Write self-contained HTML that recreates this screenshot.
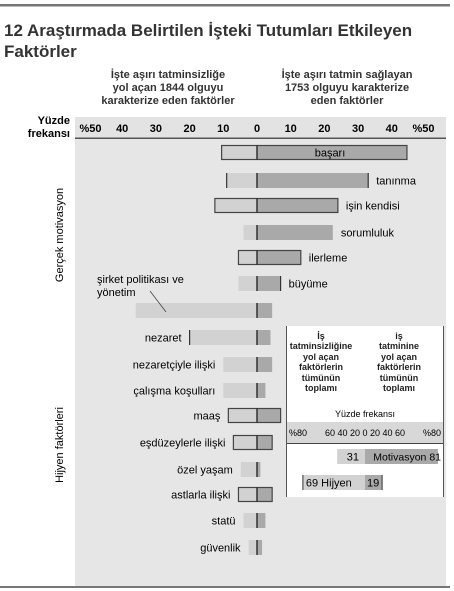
<!DOCTYPE html>
<html><head><meta charset="utf-8"><style>
body{margin:0;width:454px;height:591px;background:#fff;overflow:hidden;font-family:"Liberation Sans",sans-serif;color:#222}
svg{display:block}
</style></head><body>
<svg id="c" width="454" height="591" font-family="Liberation Sans, sans-serif">
<rect x="0" y="4" width="450" height="2.5" fill="#777"/>
<rect x="0" y="586" width="450" height="2" fill="#777"/>
<text x="4" y="36" font-size="17" font-weight="bold" fill="#333">12 Araştırmada Belirtilen İşteki Tutumları Etkileyen</text>
<text x="4" y="57" font-size="17" font-weight="bold" fill="#333">Faktörler</text>
<g font-size="11" font-weight="bold" text-anchor="middle" fill="#333">
<text x="168" y="78">İşte aşırı tatminsizliğe</text><text x="168" y="91">yol açan 1844 olguyu</text><text x="168" y="104">karakterize eden faktörler</text></g>
<g font-size="11" font-weight="bold" text-anchor="middle" fill="#333">
<text x="347" y="78">İşte aşırı tatmin sağlayan</text><text x="347" y="91">1753 olguyu karakterize</text><text x="347" y="104">eden faktörler</text></g>
<text x="70" y="124" font-size="11" font-weight="bold" text-anchor="end">Yüzde</text>
<text x="70" y="137" font-size="11" font-weight="bold" text-anchor="end">frekansı</text>
<rect x="75" y="117" width="371" height="21" fill="#e3e3e3"/>
<rect x="75" y="139" width="371" height="447" fill="#e6e6e6"/>
<rect x="75" y="137.5" width="371" height="1.5" fill="#555"/>
<text transform="translate(63,235) rotate(-90)" font-size="11" text-anchor="middle">Gerçek motivasyon</text>
<text transform="translate(63,445) rotate(-90)" font-size="11" text-anchor="middle">Hijyen faktörleri</text>
<g id="ticks"></g><g id="bars"></g>
<g>
<rect x="286" y="326" width="158" height="171" fill="#fff"/>
<line x1="286.5" y1="326" x2="286.5" y2="497" stroke="#555"/>
<line x1="443.5" y1="326" x2="443.5" y2="497" stroke="#555"/>
<g font-size="9" font-weight="bold" text-anchor="middle" fill="#222">
<text x="321" y="339">İş</text><text x="321" y="349">tatminsizliğine</text><text x="321" y="360">yol açan</text><text x="321" y="370">faktörlerin</text><text x="321" y="381">tümünün</text><text x="321" y="391">toplamı</text>
<text x="399" y="339">iş</text><text x="399" y="349">tatminine</text><text x="399" y="360">yol açan</text><text x="399" y="370">faktörlerin</text><text x="399" y="381">tümünün</text><text x="399" y="391">toplamı</text></g>
<text x="365" y="417" font-size="9" text-anchor="middle">Yüzde frekansı</text>
<rect x="287" y="422" width="156" height="21" fill="#d8d8d8"/>
<line x1="287" y1="443.5" x2="443" y2="443.5" stroke="#444"/>
<text x="289" y="436" font-size="9">%80</text>
<text x="365" y="436" font-size="9" text-anchor="middle">60 40 20  0  20 40 60</text>
<text x="441" y="436" font-size="9" text-anchor="end">%80</text>
<g id="inset"></g>
</g>
</svg>
<script>
const categories=["başarı","tanınma","işin kendisi","sorumluluk","ilerleme","büyüme","şirket politikası ve yönetim","nezaret","nezaretçiyle ilişki","çalışma koşulları","maaş","eşdüzeylerle ilişki","özel yaşam","astlarla ilişki","statü","güvenlik"];
const dissatisfaction=[10.5,9,12.5,4,5.5,5.5,36,20,10,10,8.5,7,4.8,5.5,4,2.5];
const satisfaction=[44.5,33,24,22.5,13,7,4.5,4,4.5,2.5,7,4.5,1,4.5,2.5,1.5];
const rowY=[145,173,198,225,250,276,303,330,357,383,408,435,462,487,513,540];
const ticks=["%50","40","30","20","10","0","10","20","30","40","%50"];
const tickVals=[-50,-40,-30,-20,-10,0,10,20,30,40,50];
const summaryCats=["Motivasyon","Hijyen"];
const summaryDis=[31,69];
const summarySat=[81,19];
const NS="http://www.w3.org/2000/svg";
const x0=257,pp=3.37,ip=0.9;
const X=v=>x0+v*pp;
const xi=v=>365+v*ip;
function mk(p,tag,a){const e=document.createElementNS(NS,tag);for(const k in a)e.setAttribute(k,a[k]);p.appendChild(e);return e;}
const tg=document.getElementById('ticks');
tickVals.forEach((v,i)=>{const t=mk(tg,'text',{x:X(v)-(i==0?-2:i==10?2:0),y:132,'font-size':11,'font-weight':'bold','text-anchor':'middle'});t.textContent=ticks[i];

});
const bg=document.getElementById('bars');
categories.forEach((c,i)=>{const y=rowY[i],h=15;
const g=mk(bg,'g',{});


mk(g,'rect',{x:X(-dissatisfaction[i]),y:y,width:dissatisfaction[i]*pp,height:h,fill:'#d2d2d2'});
mk(g,'rect',{x:x0,y:y,width:satisfaction[i]*pp,height:h,fill:'#a9a9a9'});
const bordered=[0,2,4,10,11,13].includes(i);
if(bordered)mk(g,'rect',{x:X(-dissatisfaction[i]),y:y+0.5,width:(dissatisfaction[i]+satisfaction[i])*pp,height:h-1,fill:'none',stroke:'#444','stroke-width':1.2});
mk(g,'line',{x1:x0,y1:y,x2:x0,y2:y+h,stroke:'#333','stroke-width':1.5});
if([1,7].includes(i))mk(g,'line',{x1:X(-dissatisfaction[i]),y1:y,x2:X(-dissatisfaction[i]),y2:y+h,stroke:'#333','stroke-width':1.2});
if([1,5].includes(i))mk(g,'line',{x1:X(satisfaction[i]),y1:y,x2:X(satisfaction[i]),y2:y+h,stroke:'#333','stroke-width':1.2});
let t;
if(i==0){t=mk(g,'text',{x:330,y:y+11.5,'font-size':11,'text-anchor':'middle'});t.textContent=c;}
else if(i<6){t=mk(g,'text',{x:X(satisfaction[i])+8,y:y+11.5,'font-size':11});t.textContent=c;}
else if(i==6){t=mk(g,'text',{x:97,y:283,'font-size':11});t.textContent='şirket politikası ve';
const t2=mk(g,'text',{x:97,y:296,'font-size':11});t2.textContent='yönetim';
mk(g,'line',{x1:150,y1:291,x2:166,y2:312,stroke:'#444','stroke-width':0.8});}
else{t=mk(g,'text',{x:X(-dissatisfaction[i])-8,y:y+11.5,'font-size':11,'text-anchor':'end'});t.textContent=c;}
});
const ig=document.getElementById('inset');
const sy=[449,475];
summaryCats.forEach((c,i)=>{const y=sy[i];
const g=mk(ig,'g',{});


mk(g,'rect',{x:xi(-summaryDis[i]),y:y,width:summaryDis[i]*ip,height:15,fill:'#d2d2d2'});
mk(g,'rect',{x:365,y:y,width:summarySat[i]*ip,height:15,fill:'#a9a9a9'});
let t;
if(i==0){t=mk(g,'text',{x:359,y:y+11.5,'font-size':11,'text-anchor':'end'});t.textContent=summaryDis[i];
t=mk(g,'text',{x:441,y:y+11.5,'font-size':10.5,'text-anchor':'end'});t.textContent=c+' '+summarySat[i];}
else{mk(g,'line',{x1:xi(-summaryDis[i]),y1:y,x2:xi(-summaryDis[i]),y2:y+15,stroke:'#333'});
mk(g,'line',{x1:xi(summarySat[i]),y1:y,x2:xi(summarySat[i]),y2:y+15,stroke:'#333'});
t=mk(g,'text',{x:xi(-summaryDis[i])+3,y:y+11.5,'font-size':11});t.textContent=summaryDis[i]+' '+c;
t=mk(g,'text',{x:367,y:y+11.5,'font-size':11});t.textContent=summarySat[i];}
});
</script>
</body></html>
